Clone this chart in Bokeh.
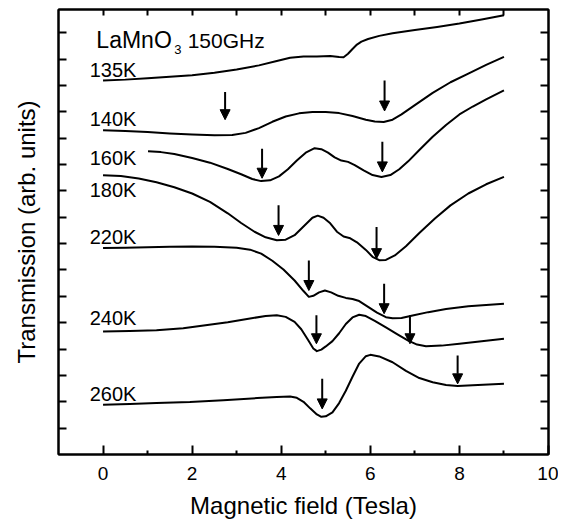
from bokeh.plotting import figure
from bokeh.models import LinearAxis, FixedTicker, Range1d, Arrow, NormalHead, ColumnDataSource
from bokeh.embed import file_html
from bokeh.resources import INLINE
from bokeh.core.properties import value

# ---- data (field in Tesla, transmission arb. units) ----
field_135 = [0, 0.5, 1.0, 1.5, 2.0, 2.5, 3.0, 3.5, 3.9, 4.2, 4.5, 4.8, 5.1, 5.3, 5.4, 5.5, 5.6, 5.7, 5.8, 5.95, 6.2, 6.5, 7.0, 7.5, 8.0, 8.5, 9.0]
trans_135 = [14.19, 14.22, 14.27, 14.33, 14.39, 14.48, 14.60, 14.76, 14.93, 15.05, 15.10, 15.10, 15.12, 15.08, 15.07, 15.20, 15.38, 15.55, 15.66, 15.76, 15.88, 15.98, 16.10, 16.22, 16.35, 16.50, 16.66]

field_140 = [0, 0.5, 1.0, 1.5, 2.0, 2.5, 2.9, 3.2, 3.5, 3.8, 4.1, 4.4, 4.7, 5.0, 5.3, 5.6, 5.9, 6.1, 6.3, 6.5, 6.7, 7.0, 7.4, 7.8, 8.2, 8.6, 9.0]
trans_140 = [12.30, 12.27, 12.23, 12.18, 12.14, 12.11, 12.12, 12.20, 12.38, 12.62, 12.82, 12.94, 12.99, 12.99, 12.95, 12.84, 12.70, 12.63, 12.61, 12.70, 12.90, 13.25, 13.72, 14.12, 14.45, 14.78, 15.08]

field_160 = [1.01, 1.3, 1.6, 2.0, 2.4, 2.8, 3.1, 3.35, 3.55, 3.75, 3.95, 4.15, 4.35, 4.55, 4.75, 4.9, 5.05, 5.2, 5.35, 5.5, 5.65, 5.85, 6.05, 6.25, 6.45, 6.65, 6.85, 7.1, 7.4, 7.7, 8.0, 8.3, 8.6, 9.0]
trans_160 = [11.50, 11.47, 11.40, 11.25, 11.07, 10.83, 10.63, 10.45, 10.37, 10.40, 10.55, 10.82, 11.15, 11.45, 11.62, 11.58, 11.45, 11.27, 11.15, 11.10, 10.98, 10.78, 10.60, 10.53, 10.60, 10.82, 11.12, 11.55, 12.05, 12.50, 12.90, 13.20, 13.47, 13.81]

field_180 = [0, 0.4, 0.8, 1.2, 1.6, 2.0, 2.4, 2.8, 3.1, 3.4, 3.65, 3.9, 4.1, 4.3, 4.5, 4.7, 4.82, 4.95, 5.1, 5.25, 5.4, 5.55, 5.7, 5.9, 6.05, 6.2, 6.35, 6.55, 6.8, 7.1, 7.45, 7.8, 8.2, 8.6, 9.0]
trans_180 = [10.59, 10.56, 10.47, 10.33, 10.14, 9.90, 9.58, 9.15, 8.78, 8.45, 8.24, 8.13, 8.15, 8.32, 8.65, 8.98, 9.06, 8.98, 8.77, 8.45, 8.27, 8.20, 8.05, 7.76, 7.50, 7.37, 7.38, 7.55, 7.90, 8.40, 8.95, 9.45, 9.90, 10.25, 10.53]

field_220 = [0, 0.5, 1.0, 1.5, 2.0, 2.5, 3.0, 3.3, 3.55, 3.8, 4.05, 4.3, 4.5, 4.62, 4.72, 4.85, 4.98, 5.12, 5.28, 5.45, 5.6, 5.75, 5.95, 6.15, 6.35, 6.5, 6.7, 6.95, 7.3, 7.7, 8.2, 8.6, 9.0]
trans_220 = [7.83, 7.84, 7.86, 7.88, 7.89, 7.88, 7.84, 7.77, 7.62, 7.35, 7.02, 6.60, 6.20, 5.98, 6.02, 6.15, 6.22, 6.15, 6.02, 5.94, 5.90, 5.82, 5.60, 5.38, 5.21, 5.17, 5.18, 5.27, 5.40, 5.52, 5.62, 5.67, 5.72]

field_240 = [0, 0.6, 1.2, 1.8, 2.3, 2.8, 3.3, 3.65, 3.9, 4.1, 4.3, 4.45, 4.6, 4.72, 4.8, 4.9, 5.0, 5.15, 5.3, 5.45, 5.6, 5.75, 5.9, 6.1, 6.35, 6.6, 6.85, 7.05, 7.25, 7.6, 8.0, 8.5, 9.0]
trans_240 = [4.67, 4.68, 4.71, 4.79, 4.90, 5.02, 5.16, 5.25, 5.28, 5.22, 5.03, 4.75, 4.35, 4.02, 3.92, 3.98, 4.10, 4.30, 4.60, 4.95, 5.20, 5.30, 5.25, 5.07, 4.82, 4.57, 4.32, 4.17, 4.11, 4.13, 4.20, 4.30, 4.39]

field_260 = [0, 0.6, 1.2, 1.95, 2.7, 3.46, 3.9, 4.2, 4.35, 4.5, 4.65, 4.8, 4.9, 5.0, 5.15, 5.3, 5.45, 5.6, 5.75, 5.9, 6.0, 6.2, 6.5, 6.8, 7.1, 7.4, 7.7, 7.96, 8.3, 9.0]
trans_260 = [1.89, 1.92, 1.95, 1.99, 2.06, 2.14, 2.18, 2.20, 2.15, 2.00, 1.75, 1.52, 1.43, 1.45, 1.60, 1.95, 2.42, 2.95, 3.45, 3.73, 3.78, 3.72, 3.50, 3.17, 2.90, 2.74, 2.64, 2.60, 2.63, 2.68]

curve_names = ["135K", "140K", "160K", "180K", "220K", "240K", "260K"]

# resonance markers (arrows): field, top, tip
arrow_field = [2.74, 6.32, 3.57, 6.27, 3.94, 6.14, 4.62, 6.31, 4.79, 6.89, 4.92, 7.96]
arrow_top   = [13.75, 14.19, 11.60, 11.86, 9.45, 8.63, 7.36, 6.48, 5.28, 5.28, 2.87, 3.76]
arrow_tip   = [12.70, 13.03, 10.48, 10.72, 8.31, 7.43, 6.22, 5.34, 4.20, 4.20, 1.73, 2.68]

x_major = [0, 2, 4, 6, 8, 10]
x_minor = [1, 3, 5, 7, 9]
x_top_ticks = [0, 1, 2, 3, 4, 5, 6, 7, 8, 9]
y_ticks = list(range(1, 17))

# label placement (annotation positions)
label_x = [-0.3] * 7
label_y = [14.58, 12.71, 11.25, 10.05, 8.25, 5.16, 2.30]

FONT = "Liberation Sans"

p = figure(frame_width=490, frame_height=445,
           x_range=Range1d(-1, 10), y_range=Range1d(0, 16.88),
           output_backend="svg", toolbar_location=None,
           min_border_left=58, min_border_right=10, min_border_top=9, min_border_bottom=59,
           x_axis_label="Magnetic field (Tesla)", y_axis_label="Transmission (arb. units)")
p.xgrid.visible = False
p.ygrid.visible = False
p.outline_line_color = "black"
p.outline_line_width = 2
p.outline_line_alpha = 1.0
p.background_fill_color = "white"
p.border_fill_color = "white"

# bottom axis
xa = p.xaxis[0]
xa.ticker = FixedTicker(ticks=x_major, minor_ticks=x_minor)
xa.major_tick_in = 9
xa.major_tick_out = 0
xa.minor_tick_in = 4
xa.minor_tick_out = 0
xa.major_tick_line_width = 2
xa.minor_tick_line_width = 2
xa.axis_line_width = 2
xa.major_label_text_font = FONT
xa.major_label_text_font_size = "19px"
xa.major_label_text_color = "black"
xa.major_label_standoff = 12
xa.axis_label_text_font = FONT
xa.axis_label_text_font_size = "24px"
xa.axis_label_text_font_style = "normal"
xa.axis_label_text_color = "black"
xa.axis_label_standoff = 9


def hide_labels(ax):
    ax.major_label_text_font_size = "1px"
    ax.major_label_text_color = None
    ax.major_label_standoff = 0


# left axis
ya = p.yaxis[0]
ya.ticker = FixedTicker(ticks=y_ticks)
ya.major_tick_in = 8
ya.major_tick_out = 0
ya.minor_tick_in = 0
ya.minor_tick_out = 0
ya.major_tick_line_width = 2
ya.axis_line_width = 2
hide_labels(ya)
ya.axis_label_text_font = FONT
ya.axis_label_text_font_size = "24px"
ya.axis_label_text_font_style = "normal"
ya.axis_label_text_color = "black"
ya.axis_label_standoff = 19

# right axis
ra = LinearAxis(ticker=FixedTicker(ticks=y_ticks), major_tick_in=8, major_tick_out=0,
                minor_tick_in=0, minor_tick_out=0, major_tick_line_width=2, axis_line_width=2)
hide_labels(ra)
p.add_layout(ra, "right")

# top axis
ta = LinearAxis(ticker=FixedTicker(ticks=x_top_ticks), major_tick_in=6, major_tick_out=0,
                minor_tick_in=0, minor_tick_out=0, major_tick_line_width=2, axis_line_width=2)
hide_labels(ta)
p.add_layout(ta, "above")

series = [(field_135, trans_135), (field_140, trans_140), (field_160, trans_160),
          (field_180, trans_180), (field_220, trans_220), (field_240, trans_240),
          (field_260, trans_260)]
for fx, ty in series:
    p.line(fx, ty, line_color="black", line_width=2, line_join="round")

# arrows
arr_src = ColumnDataSource(dict(x0=arrow_field, y0=arrow_top, x1=arrow_field, y1=arrow_tip))
p.add_layout(Arrow(source=arr_src, x_start="x0", y_start="y0", x_end="x1", y_end="y1",
                   line_width=2, line_color="black",
                   end=NormalHead(size=10, fill_color="black", line_color="black", line_width=1)))

# curve labels
p.text(x=label_x, y=label_y, text=curve_names, text_font=value(FONT), text_font_size="20px",
       text_baseline="middle", text_align="left", text_color="black")

# annotation: LaMnO3 150GHz
p.text(x=[-0.15], y=[15.71], text=["LaMnO"], text_font=value(FONT), text_font_size="23px",
       text_baseline="middle", text_align="left", text_color="black")
p.text(x=[1.6], y=[15.36], text=["3"], text_font=value(FONT), text_font_size="13px",
       text_baseline="middle", text_align="left", text_color="black")
p.text(x=[1.9], y=[15.71], text=["150GHz"], text_font=value(FONT), text_font_size="21px",
       text_baseline="middle", text_align="left", text_color="black")

open("out.html", "w").write(file_html(p, INLINE))
